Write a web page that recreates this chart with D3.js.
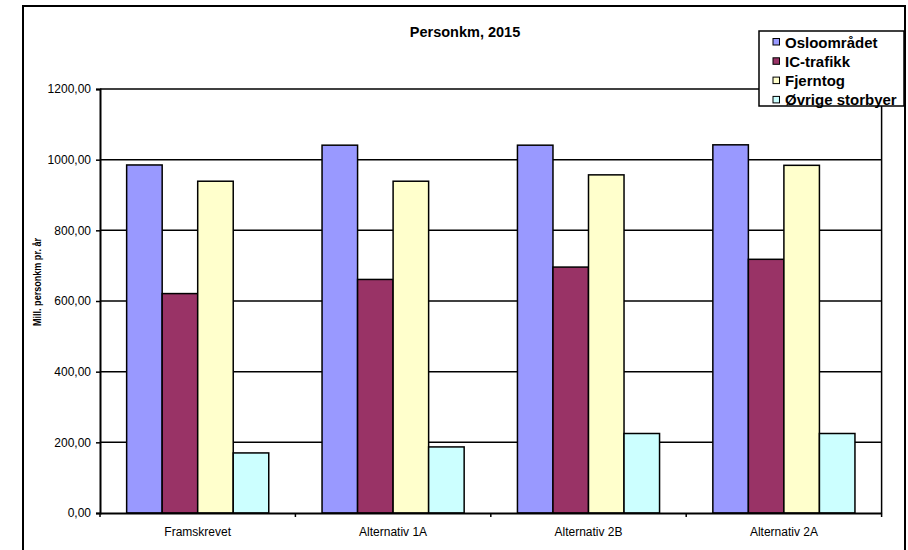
<!DOCTYPE html>
<html>
<head>
<meta charset="utf-8">
<script src="https://cdn.jsdelivr.net/npm/d3@7"></script>
<style>
  html, body { margin: 0; padding: 0; background: #fff; }
  svg { display: block; font-family: Arial, "Liberation Sans", sans-serif; }
</style>
</head>
<body>
<svg id="chart" width="908" height="550"></svg>
<script>
// Passenger-km per scenario, 2015 (million passenger-km per year)
const categories = ["Framskrevet", "Alternativ 1A", "Alternativ 2B", "Alternativ 2A"];
const seriesNames = ["Osloområdet", "IC-trafikk", "Fjerntog", "Øvrige storbyer"];
const osloomradet = [985, 1041, 1041, 1042];
const icTrafikk = [621, 661, 696, 718];
const fjerntog = [939, 939, 957, 984];
const ovrigeStorbyer = [170, 187, 225, 225];
const yTicks = [0, 200, 400, 600, 800, 1000, 1200];
const seriesColors = ["#9999FF", "#993366", "#FFFFCC", "#CCFFFF"];

const seriesValues = [osloomradet, icTrafikk, fjerntog, ovrigeStorbyer];
const rows = categories.map((c, i) => ({
  category: c,
  values: seriesNames.map((s, j) => ({ series: s, value: seriesValues[j][i], color: seriesColors[j] }))
}));

const svg = d3.select("#chart");

// chart frame
svg.append("rect")
  .attr("x", 23).attr("y", 6).attr("width", 882).attr("height", 560)
  .attr("fill", "#fff").attr("stroke", "#000").attr("stroke-width", 2);

const plot = { left: 100, right: 881.6, top: 89, bottom: 513 };

const x0 = d3.scaleBand().domain(categories).range([plot.left, plot.right]).padding(0);
const x1 = d3.scaleBand().domain(seriesNames).range([0, x0.bandwidth()])
  .paddingInner(0).paddingOuter(0.75);
const y = d3.scaleLinear().domain([0, 1200]).range([plot.bottom, plot.top]);

const nbLocale = d3.formatLocale({ decimal: ",", thousands: "", grouping: [3], currency: ["", " kr"] });
const fmt = nbLocale.format(".2f");

// horizontal gridlines
svg.append("g")
  .selectAll("line")
  .data(yTicks.filter(t => t > 0))
  .join("line")
  .attr("x1", plot.left).attr("x2", plot.right)
  .attr("y1", d => y(d)).attr("y2", d => y(d))
  .attr("stroke", "#000").attr("stroke-width", 1.5);

// plot area right border
svg.append("line")
  .attr("x1", plot.right).attr("x2", plot.right)
  .attr("y1", plot.top).attr("y2", plot.bottom)
  .attr("stroke", "#000").attr("stroke-width", 1.5);

// bars
const groups = svg.append("g")
  .selectAll("g")
  .data(rows)
  .join("g")
  .attr("transform", d => `translate(${x0(d.category)},0)`);

groups.selectAll("rect")
  .data(d => d.values)
  .join("rect")
  .attr("x", d => x1(d.series))
  .attr("y", d => y(d.value))
  .attr("width", x1.bandwidth())
  .attr("height", d => y(0) - y(d.value))
  .attr("fill", d => d.color)
  .attr("stroke", "#000")
  .attr("stroke-width", 1.5);

// y axis
const yAxis = d3.axisLeft(y).tickValues(yTicks).tickFormat(fmt).tickSize(4).tickPadding(5);
const gy = svg.append("g").attr("transform", `translate(${plot.left},0)`).call(yAxis);
gy.select(".domain").attr("stroke", "#000").attr("stroke-width", 2);
gy.selectAll(".tick line").attr("stroke", "#000").attr("stroke-width", 1.5);
gy.selectAll(".tick text")
  .attr("font-size", 12).attr("fill", "#000")
  .attr("font-family", "Arial, 'Liberation Sans', sans-serif");

// x axis: ticks on category boundaries
const xAxis = d3.axisBottom(x0).tickSize(0).tickPadding(14);
const gx = svg.append("g").attr("transform", `translate(0,${plot.bottom})`).call(xAxis);
gx.select(".domain").attr("stroke", "#000").attr("stroke-width", 2);
gx.selectAll(".tick text")
  .attr("font-size", 12).attr("fill", "#000")
  .attr("font-family", "Arial, 'Liberation Sans', sans-serif");
gx.selectAll("line.boundary")
  .data(categories.map(c => x0(c)).concat([plot.right]))
  .join("line")
  .attr("class", "boundary")
  .attr("x1", d => d).attr("x2", d => d)
  .attr("y1", 0).attr("y2", 4)
  .attr("stroke", "#000").attr("stroke-width", 1.5);

// title
svg.append("text")
  .attr("x", 465).attr("y", 37)
  .attr("text-anchor", "middle")
  .attr("font-size", 14.5).attr("font-weight", "bold")
  .text("Personkm, 2015");

// y axis title
svg.append("text")
  .attr("transform", "translate(40.5,282) rotate(-90)")
  .attr("text-anchor", "middle")
  .attr("font-size", 10.5).attr("font-weight", "bold")
  .attr("textLength", 88).attr("lengthAdjust", "spacingAndGlyphs")
  .text("Mill. personkm pr. år");

// legend
const legend = svg.append("g");
legend.append("rect")
  .attr("x", 759).attr("y", 31).attr("width", 145).attr("height", 75)
  .attr("fill", "#fff").attr("stroke", "#000").attr("stroke-width", 1.5);
const items = legend.selectAll("g.item")
  .data(seriesNames)
  .join("g")
  .attr("class", "item")
  .attr("transform", (d, i) => `translate(773,${42 + i * 19.3})`);
items.append("rect")
  .attr("x", 0).attr("y", -3.5).attr("width", 6.5).attr("height", 6.5)
  .attr("fill", (d, i) => seriesColors[i])
  .attr("stroke", "#000").attr("stroke-width", 1);
items.append("text")
  .attr("x", 12).attr("y", 5.5)
  .attr("font-size", 15).attr("font-weight", "bold")
  .text(d => d);
</script>
</body>
</html>
